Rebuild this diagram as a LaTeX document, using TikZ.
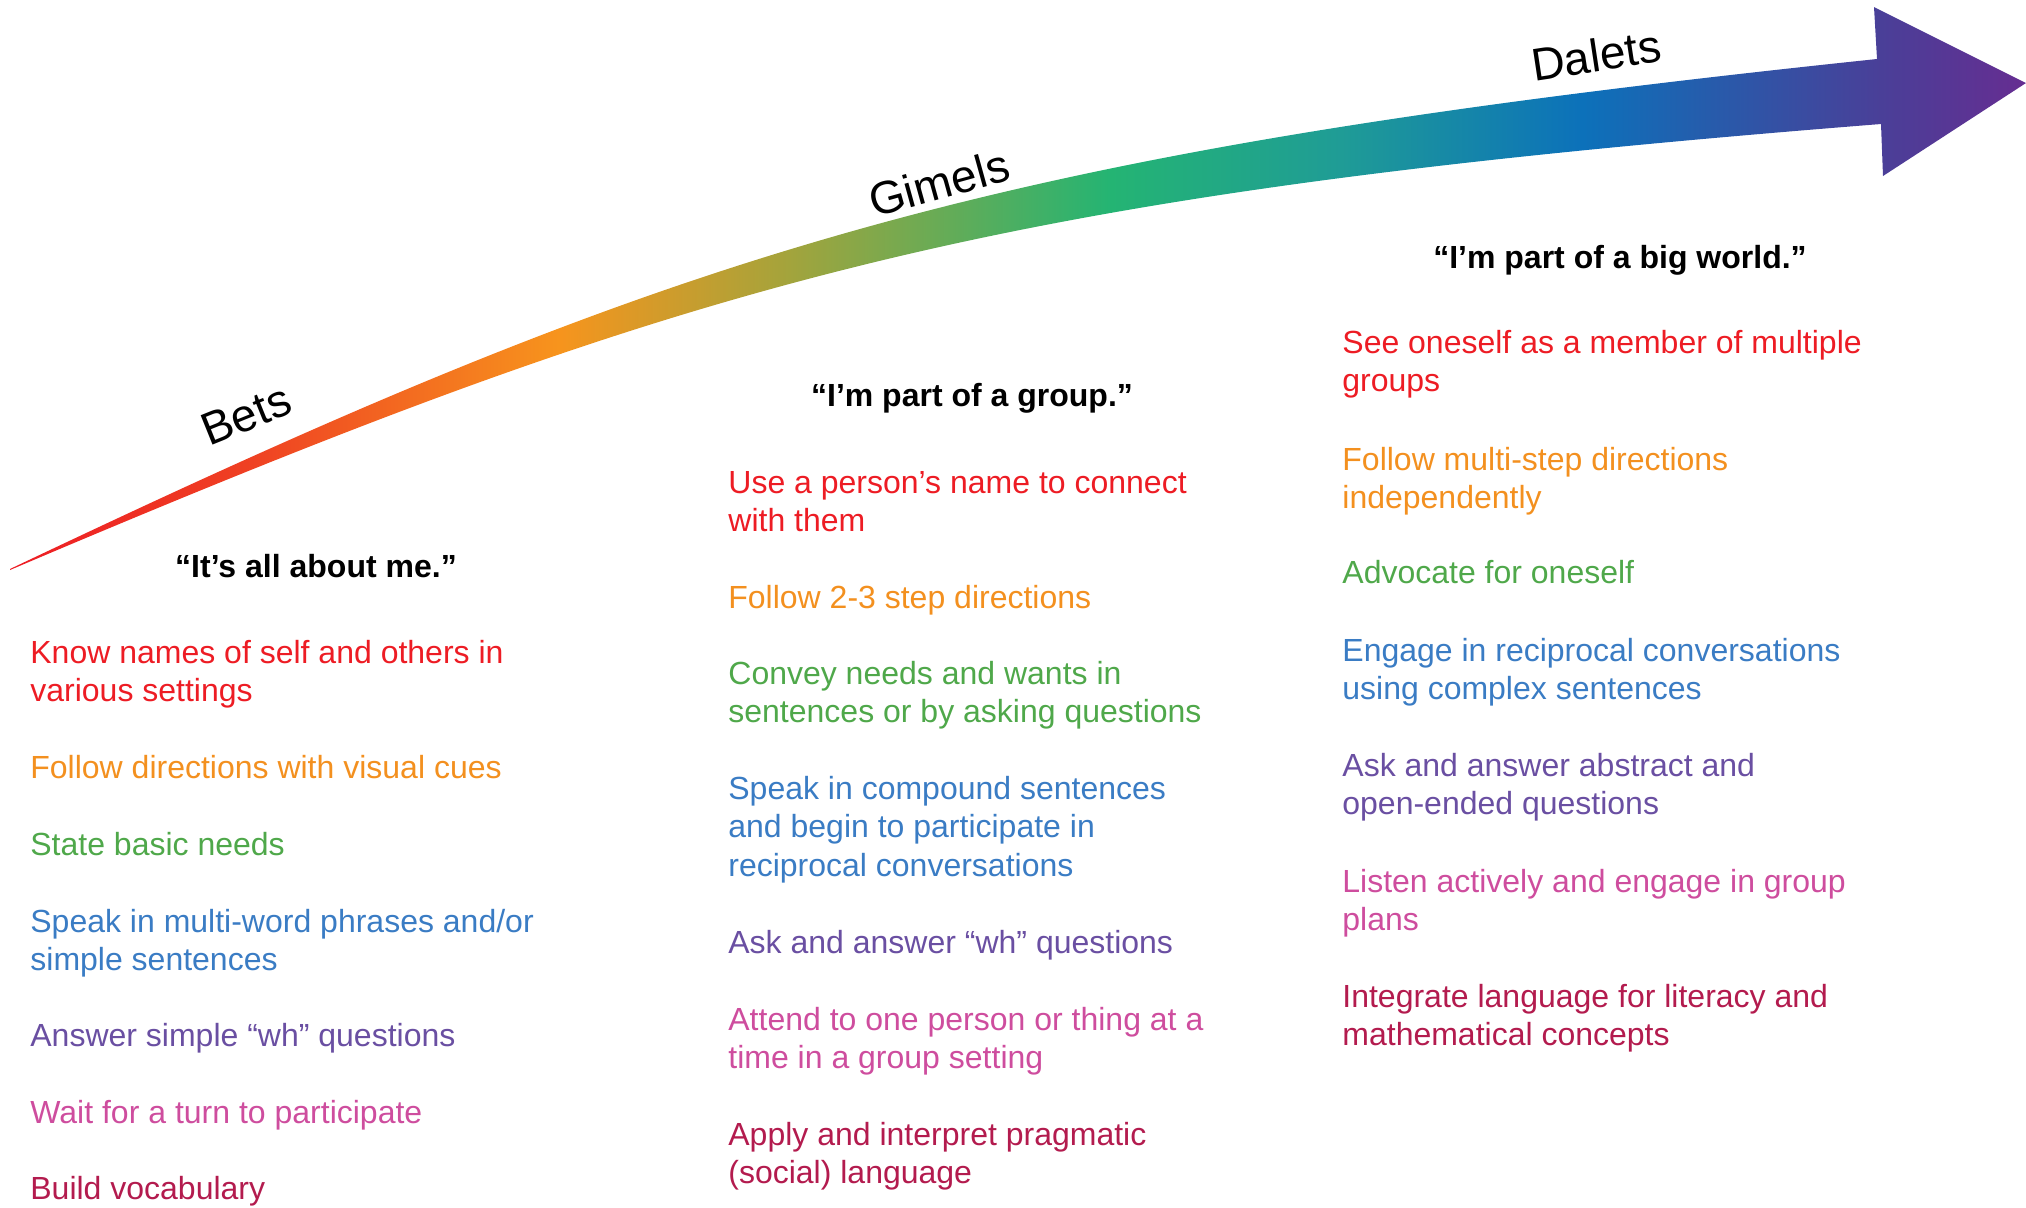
\documentclass[tikz,border=0pt]{standalone}
\usepackage{fontspec}
\setmainfont{Liberation Sans}
\definecolor{cRed}{HTML}{ED1C24}
\definecolor{cOrange}{HTML}{F3901F}
\definecolor{cGreen}{HTML}{4FA84A}
\definecolor{cBlue}{HTML}{3A7CC4}
\definecolor{cPurple}{HTML}{6A4FA2}
\definecolor{cPink}{HTML}{CE4D9E}
\definecolor{cCrimson}{HTML}{B31B4E}
\definecolor{g0}{HTML}{ED1C24}
\definecolor{g1}{HTML}{EF4123}
\definecolor{g2}{HTML}{F7941D}
\definecolor{g3}{HTML}{A8A33A}
\definecolor{g4}{HTML}{24B473}
\definecolor{g5}{HTML}{1F9C96}
\definecolor{g6}{HTML}{0C71BA}
\definecolor{g7}{HTML}{4A3F98}
\definecolor{g8}{HTML}{662D91}
\pgfdeclarehorizontalshading{rainbowarrow}{100bp}{color(0bp)=(g0); color(25bp)=(g0); color(31bp)=(g1); color(38.6bp)=(g2); color(44bp)=(g3); color(52.3bp)=(g4); color(58bp)=(g5); color(64bp)=(g6); color(71.4bp)=(g7); color(75bp)=(g8); color(100bp)=(g8)}
\newcommand{\goallines}[1]{\begin{tabular}[t]{@{}l@{}}#1\end{tabular}}
\tikzset{
  goal/.style={anchor=base west, inner sep=0pt, font=\fontsize{16pt}{19.4pt}\selectfont},
  headline/.style={anchor=base, inner sep=0pt, font=\fontsize{16pt}{19.4pt}\selectfont\bfseries},
  stage/.style={inner sep=0pt, font=\fontsize{23pt}{27pt}\selectfont}
}
\begin{document}
\begin{tikzpicture}[x=0.5pt, y=-0.5pt]
\useasboundingbox (0,0) rectangle (2026,1207);
% arrow
\shade[shading=rainbowarrow] (10,569) .. controls (687,247) and (982,153) .. (1877,59)
  -- (1874,7) -- (2026,83) -- (1883,176) -- (1881,124)
  .. controls (984,195) and (700,277) .. (10,570) -- cycle;
% stage labels
\node[stage, rotate=22] (bets) at (246,415) {Bets};
\node[stage, rotate=15.5] (gimels) at (939,183) {Gimels};
\node[stage, rotate=8.6] (dalets) at (1596,55) {Dalets};
% headlines
\node[headline] (h1) at (316,577) {“It’s all about me.”};
\node[headline] (h2) at (972,406) {“I’m part of a group.”};
\node[headline] (h3) at (1620,268) {“I’m part of a big world.”};
% column 1
\node[goal, text=cRed] (a1) at (30,663) {\goallines{Know names of self and others in\\various settings}};
\node[goal, text=cOrange] (a2) at (30,778) {Follow directions with visual cues};
\node[goal, text=cGreen] (a3) at (30,855) {State basic needs};
\node[goal, text=cBlue] (a4) at (30,932) {\goallines{Speak in multi-word phrases and/or\\simple sentences}};
\node[goal, text=cPurple] (a5) at (30,1046) {Answer simple “wh” questions};
\node[goal, text=cPink] (a6) at (30,1123) {Wait for a turn to participate};
\node[goal, text=cCrimson] (a7) at (30,1199) {Build vocabulary};
% column 2
\node[goal, text=cRed] (b1) at (728,493) {\goallines{Use a person’s name to connect\\with them}};
\node[goal, text=cOrange] (b2) at (728,608) {Follow 2-3 step directions};
\node[goal, text=cGreen] (b3) at (728,684) {\goallines{Convey needs and wants in\\sentences or by asking questions}};
\node[goal, text=cBlue] (b4) at (728,799) {\goallines{Speak in compound sentences\\and begin to participate in\\reciprocal conversations}};
\node[goal, text=cPurple] (b5) at (728,953) {Ask and answer “wh” questions};
\node[goal, text=cPink] (b6) at (728,1030) {\goallines{Attend to one person or thing at a\\time in a group setting}};
\node[goal, text=cCrimson] (b7) at (728,1145) {\goallines{Apply and interpret pragmatic\\(social) language}};
% column 3
\node[goal, text=cRed] (c1) at (1342,353) {\goallines{See oneself as a member of multiple\\groups}};
\node[goal, text=cOrange] (c2) at (1342,470) {\goallines{Follow multi-step directions\\independently}};
\node[goal, text=cGreen] (c3) at (1342,583) {Advocate for oneself};
\node[goal, text=cBlue] (c4) at (1342,661) {\goallines{Engage in reciprocal conversations\\using complex sentences}};
\node[goal, text=cPurple] (c5) at (1342,776) {\goallines{Ask and answer abstract and\\open-ended questions}};
\node[goal, text=cPink] (c6) at (1342,892) {\goallines{Listen actively and engage in group\\plans}};
\node[goal, text=cCrimson] (c7) at (1342,1007) {\goallines{Integrate language for literacy and\\mathematical concepts}};
\end{tikzpicture}
\end{document}
